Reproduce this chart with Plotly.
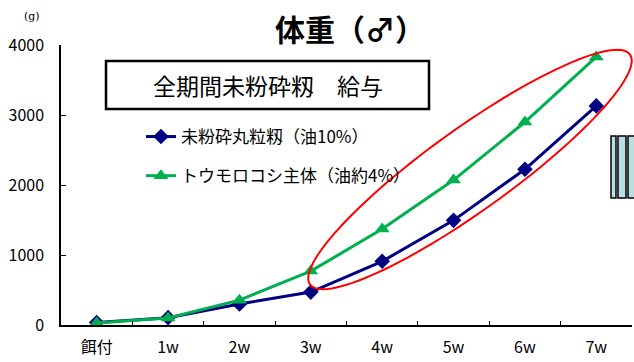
import numpy as np
import plotly.graph_objects as go

categories = ["餌付", "1w", "2w", "3w", "4w", "5w", "6w", "7w"]
series_a_name = "未粉砕丸粒籾（油10%）"
series_a = [35, 105, 300, 470, 910, 1495, 2225, 3130]
series_b_name = "トウモロコシ主体（油約4%）"
series_b = [30, 100, 355, 770, 1370, 2070, 2900, 3830]
y_ticks = [0, 1000, 2000, 3000, 4000]

W, H = 634, 362
ML, MR, MT, MB = 61, 2, 45, 37
PW, PH = W - ML - MR, H - MT - MB

def px(x):
    return (x - ML) / PW

def py(y):
    return (H - MB - y) / PH

FONT = "Noto Sans CJK JP"

fig = go.Figure()
fig.add_trace(go.Scatter(
    x=categories, y=series_a, name=series_a_name, mode="lines+markers",
    line=dict(color="#000080", width=3),
    marker=dict(symbol="diamond", size=12, color="#000080"),
    legendgroup="a",
))
fig.add_trace(go.Scatter(
    x=categories, y=series_b, name=series_b_name, mode="lines+markers",
    line=dict(color="#00b050", width=3),
    marker=dict(symbol="triangle-up", size=13, color="#00b050"),
    legendgroup="b",
))

# red ellipse (annotation) in pixel space -> paper
cx, cy, a, b, th = 470, 169.5, 197, 41, np.deg2rad(35.7)
t = np.linspace(0, 2 * np.pi, 120)
ex = cx + a * np.cos(t) * np.cos(th) + b * np.sin(t) * np.sin(th)
ey = cy - a * np.cos(t) * np.sin(th) + b * np.sin(t) * np.cos(th)
path = "M" + " L".join(f"{px(x):.5f},{py(y):.5f}" for x, y in zip(ex, ey)) + " Z"

shapes = [
    dict(type="path", path=path, xref="paper", yref="paper",
         line=dict(color="#ff0000", width=2), layer="above"),
    dict(type="rect", xref="paper", yref="paper",
         x0=px(106), x1=px(429), y0=py(109), y1=py(61),
         line=dict(color="black", width=2.5), fillcolor="white", layer="below"),
]
for x0, x1 in [(611, 616), (618, 626), (628, 640)]:
    shapes.append(dict(type="rect", xref="paper", yref="paper",
                       x0=px(x0), x1=px(x1), y0=py(198), y1=py(136),
                       line=dict(color="black", width=1.5), fillcolor="#b9dfe2"))

annotations = [
    dict(text="<b>体重（♂）</b>", xref="paper", yref="paper", x=px(350), y=py(28),
         showarrow=False, font=dict(family=FONT, size=30, color="black"),
         xanchor="center", yanchor="middle"),
    dict(text="全期間未粉砕籾　給与", xref="paper", yref="paper", x=px(268), y=py(85),
         showarrow=False, font=dict(family=FONT, size=23, color="black"),
         xanchor="center", yanchor="middle"),
    dict(text="(g)", xref="paper", yref="paper", x=px(32), y=py(17),
         showarrow=False, font=dict(family="DejaVu Serif", size=11, color="black"),
         xanchor="center", yanchor="middle"),
]

fig.update_layout(
    width=W, height=H,
    margin=dict(l=ML, r=MR, t=MT, b=MB),
    paper_bgcolor="white", plot_bgcolor="white",
    showlegend=True,
    legend=dict(x=px(141), y=py(119), xanchor="left", yanchor="top",
                font=dict(family=FONT, size=17, color="black"),
                bgcolor="rgba(0,0,0,0)", tracegroupgap=14,
                traceorder="grouped", itemwidth=30),
    shapes=shapes, annotations=annotations,
    font=dict(family=FONT, color="black"),
)
fig.update_xaxes(
    type="category", showline=True, linecolor="black", linewidth=1.5,
    ticks="inside", ticklen=4, tickcolor="black", tickson="boundaries",
    showgrid=False, zeroline=False, tickfont=dict(family=FONT, size=16),
    range=[-0.5, 7.5], ticklabelstandoff=7,
)
fig.update_yaxes(
    range=[0, 4000], tickvals=y_ticks, showline=True, linecolor="black",
    linewidth=1.5, ticks="inside", ticklen=5, tickcolor="black",
    showgrid=False, zeroline=False, tickfont=dict(family=FONT, size=16),
    ticklabelstandoff=12,
)

fig.write_html("out.html")
